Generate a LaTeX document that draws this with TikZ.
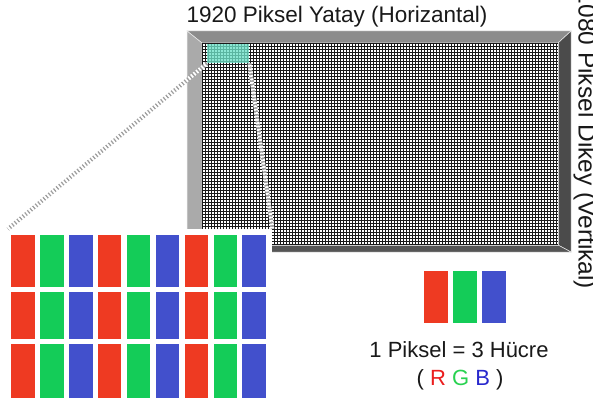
\documentclass[tikz,border=0pt]{standalone}
\usepackage{fontspec}
\setmainfont{Liberation Sans}
\definecolor{pr}{RGB}{238,58,34}
\definecolor{pg}{RGB}{20,204,88}
\definecolor{pb}{RGB}{66,80,204}
\definecolor{tr}{RGB}{235,30,30}
\definecolor{tg}{RGB}{40,210,80}
\definecolor{tb}{RGB}{40,40,205}
\definecolor{selc}{RGB}{110,225,200}
\definecolor{ftop}{RGB}{140,140,140}
\definecolor{fleft}{RGB}{170,170,170}
\definecolor{fright}{RGB}{75,75,75}
\definecolor{fbot}{RGB}{85,85,85}
\begin{document}
\begin{tikzpicture}[x=1pt,y=-1pt,
  lbl/.style={font=\fontsize{22}{26}\selectfont, inner sep=0pt, text=black!90},
  gl/.style={line width=1.1pt, black!90},
  bev/.style={draw=white!85!gray, line width=0.5pt},
  zl/.style={line width=4pt, dash pattern=on 1.7pt off 1.7pt},
  cellbox/.style={inner sep=0pt, minimum width=23.5pt, anchor=north west},
  boxfill/.style={inner sep=0pt, anchor=north west}]
\useasboundingbox (0,0) rectangle (593,398);
\clip (0,0) rectangle (593,398);
\fill[white] (0,0) rectangle (593,398);
% monitor frame
\fill[ftop,bev]   (187,31) -- (571,31) -- (558,43) -- (202,43) -- cycle;
\fill[fleft,bev]  (187,31) -- (202,43) -- (202,245) -- (187,252) -- cycle;
\fill[fright,bev] (571,31) -- (571,252) -- (558,245) -- (558,43) -- cycle;
\fill[fbot,bev]   (187,252) -- (202,245) -- (558,245) -- (571,252) -- cycle;
% screen
\node[boxfill, fill=white, draw=gray!40, minimum width=356pt, minimum height=202pt] (scr) at (202,43) {};
\foreach \i in {0,...,118} \draw[gl] ({202.5+3*\i},43) -- ({202.5+3*\i},245);
\foreach \j in {0,...,67} \draw[gl] (202,{43.5+3*\j}) -- (558,{43.5+3*\j});
% selected region
\node[boxfill, fill=selc, fill opacity=0.78, minimum width=42pt, minimum height=19pt] (sel) at (207,44) {};
% magnified block
\node[boxfill, fill=white, minimum width=264pt, minimum height=170pt] (blk) at (8,229) {};
\draw[zl, gray!75] (sel.south west) -- (blk.north west);
\draw[zl, white, dash phase=1.7pt] (sel.south west) -- (blk.north west);
\draw[zl, gray!75] (sel.south east) -- (blk.north east);
\draw[zl, white, dash phase=1.7pt] (sel.south east) -- (blk.north east);
\foreach \c in {0,...,8} {
  \pgfmathtruncatemacro{\m}{mod(\c,3)}
  \ifcase\m \def\cc{pr}\or \def\cc{pg}\or \def\cc{pb}\fi
  \node[cellbox, fill=\cc, minimum height=52pt] (ca\c) at ({11+28.9*\c},235) {};
  \node[cellbox, fill=\cc, minimum height=47.5pt] (cb\c) at ({11+28.9*\c},291.5) {};
  \node[cellbox, fill=\cc, minimum height=56pt] (cc\c) at ({11+28.9*\c},344) {};
}
% legend
\node[cellbox, fill=pr, minimum width=24.5pt, minimum height=52pt] (lr) at (423.5,271) {};
\node[cellbox, fill=pg, minimum width=24pt, minimum height=52pt] (lg) at (453,271) {};
\node[cellbox, fill=pb, minimum width=24pt, minimum height=52pt] (lb) at (482,271) {};
% texts
\node[lbl, font=\fontsize{22.5}{26}\selectfont] (ttl) at (337,17) {1920 Piksel Yatay (Horizantal)};
\node[lbl, font=\fontsize{24.5}{28}\selectfont, rotate=-90] (vrt) at (585,140) {1080 Piksel Dikey (Vertikal)};
\node[lbl] (eq) at (459,350) {1 Piksel = 3 Hücre};
\node[lbl] (rgb) at (460,380) {( {\color{tr}R} {\color{tg}G} {\color{tb}B} )};
\end{tikzpicture}
\end{document}
